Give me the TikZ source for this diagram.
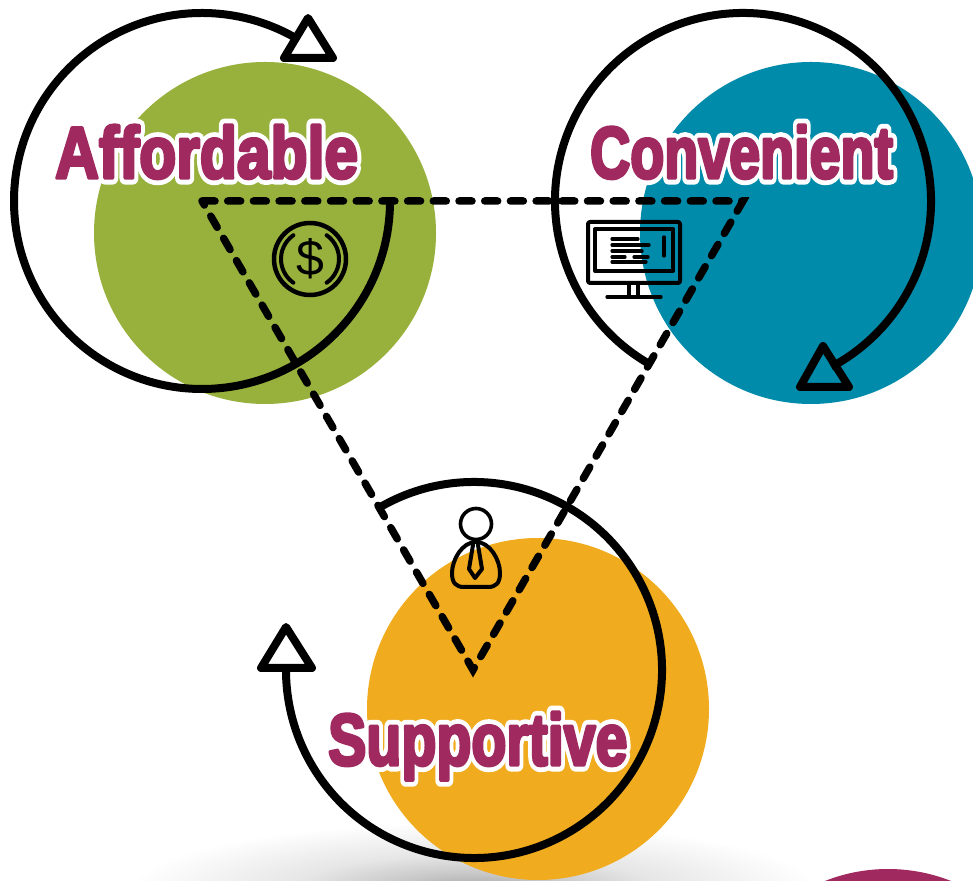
\documentclass[tikz,border=0pt]{standalone}
\usepackage{fontspec}
\usepackage{tikz}
\usetikzlibrary{calc}
\setmainfont{Liberation Sans}
\definecolor{leafgreen}{HTML}{98B13D}
\definecolor{deepteal}{HTML}{008BAB}
\definecolor{amber}{HTML}{F0AB1E}
\definecolor{plum}{HTML}{A02A60}
\pgfdeclareradialshading{softglow}{\pgfpoint{0bp}{0bp}}{color(0bp)=(black!36); color(6bp)=(black!22); color(13bp)=(black!10); color(25bp)=(white); color(50bp)=(white)}
% white rim behind the letters, then the letters a little thickened
\newcommand{\rimtext}[1]{\rlap{\special{pdf:code q 1 Tr 13 w 1 J 1 j 1 1 1 RG}\textcolor{white}{#1}\special{pdf:code Q}}\special{pdf:code q 2 Tr 3.4 w 1 j 0.627 0.165 0.376 RG}#1\special{pdf:code Q}}
\tikzset{
	blob/.style={circle,inner sep=0pt,minimum size=342pt},
	loopline/.style={line width=8pt},
	tipline/.style={line width=8pt,line join=round},
	linkline/.style={line width=7.5pt,dash pattern=on 13pt off 12.7pt,line cap=round},
	iconline/.style={line width=4pt,line cap=round,line join=round},
	iconthin/.style={line width=3.2pt,line cap=round},
	headword/.style={inner sep=0pt,anchor=base west,text=plum,transform shape,font=\fontsize{73}{73}\selectfont\bfseries}
}
\begin{document}
\begin{tikzpicture}[x=1pt,y=1pt]
	\useasboundingbox (0,0) rectangle (973,880);
	\fill[white] (0,0) rectangle (973,880);
%
	\shade[shading=softglow] (475,-10) ellipse (345 and 68);
%
	\node[blob,fill=leafgreen] (C1) at (265,647) {};
	\node[blob,fill=deepteal] (C2) at (811,647) {};
	\node[blob,fill=amber] (C3) at (538,171) {};
	\node[blob,fill=plum] (C4) at (888,-160) {};
%
	\coordinate (L1) at (202,679);
	\coordinate (L2) at (743,679);
	\coordinate (L3) at (473,210);
	\draw[loopline] ($(L1)+(188,0)$) arc (0:-301:188);
	\draw[loopline] ($(L2)+(240:188)$) arc (240:-62:188);
	\draw[loopline] ($(L3)+(120:188)+(1,0)$) arc (120:-180:188);
%
	\draw[tipline] (308,862) -- (284,822) -- (333,822) -- cycle;
	\draw[tipline] (823,534) -- (800,493) -- (849,493) -- cycle;
	\draw[tipline] (286,253) -- (261,212) -- (312,212) -- cycle;
%
	\draw[linkline] (L1) -- (L2) -- (L3) -- (L1);
%
	\node[circle,draw,line width=4.5pt,inner sep=0pt,minimum size=72pt] (coin) at (310,621) {};
	\draw[iconline] ($(coin)+(125:29)$) arc (125:235:29);
	\draw[iconline] ($(coin)+(-55:29)$) arc (-55:55:29);
	\node[inner sep=0pt,font=\fontsize{50}{50}\selectfont] (dollar) at (coin) {\$};
%
	\draw[iconline,rounded corners=2pt] (588,658) rectangle (680,597);
	\draw[iconline] (595,651) rectangle (673,609);
	\draw[iconthin] (629,597) -- (629,584) (638,597) -- (638,584) (607,583) -- (661,583);
	\draw[iconthin] (612,641) -- (638,641) (612,635) -- (649,635) (612,629) -- (642,629)
		(612,623) -- (625,623) (634,623) -- (648,623) (612,618) -- (646,618) (664,643) -- (664,624);
%
	\node[circle,draw,line width=3.6pt,inner sep=0pt,minimum size=31pt] (head) at (476,356) {};
	\draw[iconline] (476,338) .. controls (462,338) and (452,320) .. (452,307)
		.. controls (452,297) and (456,293) .. (464,293) -- (488,293)
		.. controls (496,293) and (500,297) .. (500,307)
		.. controls (500,320) and (490,338) .. (476,338);
	\draw[iconline] (473,335) -- (469,311) -- (475,302) -- (482,311) -- (478,335);
%
	\node[headword,xscale=.83] (afford) at (55,702) {\rimtext{Affordable}};
	\node[headword,xscale=.762] (conven) at (590,702) {\rimtext{Convenient}};
	\node[headword,xscale=.785] (support) at (328,115) {\rimtext{Supportive}};
\end{tikzpicture}
\end{document}
